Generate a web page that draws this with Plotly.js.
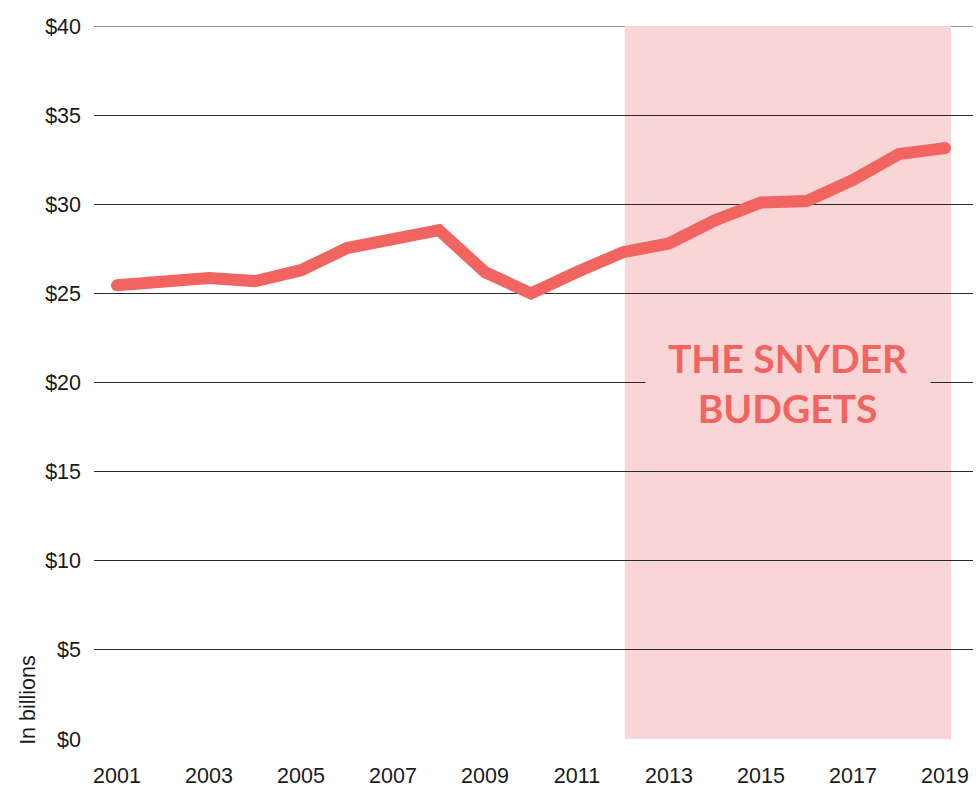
<!DOCTYPE html>
<html>
<head>
<meta charset="utf-8">
<script src="https://cdn.plot.ly/plotly-3.0.1.min.js"></script>
<style>html,body{margin:0;padding:0;background:#fff;}#chart{width:976px;height:787px;}</style>
</head>
<body>
<div id="chart"></div>
<script>
// Data (in billions of dollars)
const years = [2001, 2002, 2003, 2004, 2005, 2006, 2007, 2008, 2009, 2010, 2011, 2012, 2013, 2014, 2015, 2016, 2017, 2018, 2019];
const budget = [25.46, 25.74, 25.86, 25.69, 26.3, 27.54, 27.99, 28.55, 26.19, 25.0, 26.2, 27.31, 27.8, 29.1, 30.1, 30.18, 31.36, 32.82, 33.15];
const xTickYears = [2001, 2003, 2005, 2007, 2009, 2011, 2013, 2015, 2017, 2019];
const yTicks = [0, 5, 10, 15, 20, 25, 30, 35, 40];
const snyderStart = 2012.04;
const snyderEnd = 2019.13;
const snyderLabel = "THE SNYDER<br>BUDGETS";
const yAxisNote = "In billions";

const lineColor = "#f1645f";
const shadeColor = "#fad5d5";
const gridColor = "#2a2a2a";

const trace = {
  x: years,
  y: budget,
  type: "scatter",
  mode: "lines",
  line: { color: lineColor, width: 12, shape: "linear" },
  hoverinfo: "skip"
};

// round caps at the two ends of the line
const caps = {
  x: [years[0], years[years.length - 1]],
  y: [budget[0], budget[budget.length - 1]],
  type: "scatter",
  mode: "markers",
  marker: { color: lineColor, size: 12, line: { width: 0 } },
  hoverinfo: "skip"
};

const layout = {
  width: 976,
  height: 787,
  margin: { l: 94, r: 3, t: 26, b: 48 },
  paper_bgcolor: "#ffffff",
  plot_bgcolor: "#ffffff",
  showlegend: false,
  font: { family: "Liberation Sans, Arial, sans-serif", size: 22, color: "#1a1a1a" },
  xaxis: {
    range: [2000.5, 2019.61],
    tickvals: xTickYears,
    ticktext: xTickYears.map(String),
    showgrid: false,
    zeroline: false,
    showline: false,
    ticks: "",
    ticklabelstandoff: 21,
    tickfont: { size: 21.5, color: "#1a1a1a" },
    fixedrange: true
  },
  yaxis: {
    range: [0, 40],
    tickvals: yTicks,
    ticktext: yTicks.map(v => "$" + v),
    showgrid: true,
    gridcolor: gridColor,
    gridwidth: 1,
    zeroline: false,
    showline: false,
    ticks: "",
    ticklabelstandoff: 12,
    tickfont: { size: 21.5, color: "#1a1a1a" },
    fixedrange: true
  },
  shapes: [
    {
      type: "rect",
      xref: "x", yref: "y",
      x0: snyderStart, x1: snyderEnd,
      y0: 0, y1: 40,
      fillcolor: shadeColor,
      line: { width: 0 },
      layer: "below"
    },
    {
      type: "line",
      xref: "paper", yref: "y",
      x0: 0, x1: 1, y0: yTicks[yTicks.length - 1], y1: yTicks[yTicks.length - 1],
      line: { color: gridColor, width: 1 },
      layer: "below"
    }
  ],
  annotations: [
    {
      xref: "x", yref: "y",
      x: (snyderStart + snyderEnd) / 2,
      y: 20,
      text: snyderLabel,
      showarrow: false,
      xanchor: "center", yanchor: "middle",
      align: "center",
      width: 284,
      height: 100,
      bgcolor: shadeColor,
      borderpad: 0,
      font: { family: "Lato, Open Sans, sans-serif", size: 39, color: lineColor, weight: 700 }
    },
    {
      xref: "paper", yref: "paper",
      x: -0.075, y: 0.055,
      text: yAxisNote,
      textangle: -90,
      showarrow: false,
      xanchor: "center", yanchor: "middle",
      font: { family: "Liberation Sans, Arial, sans-serif", size: 21.5, color: "#1a1a1a" }
    }
  ]
};

Plotly.newPlot("chart", [trace, caps], layout, { displayModeBar: false, staticPlot: true });
</script>
</body>
</html>
